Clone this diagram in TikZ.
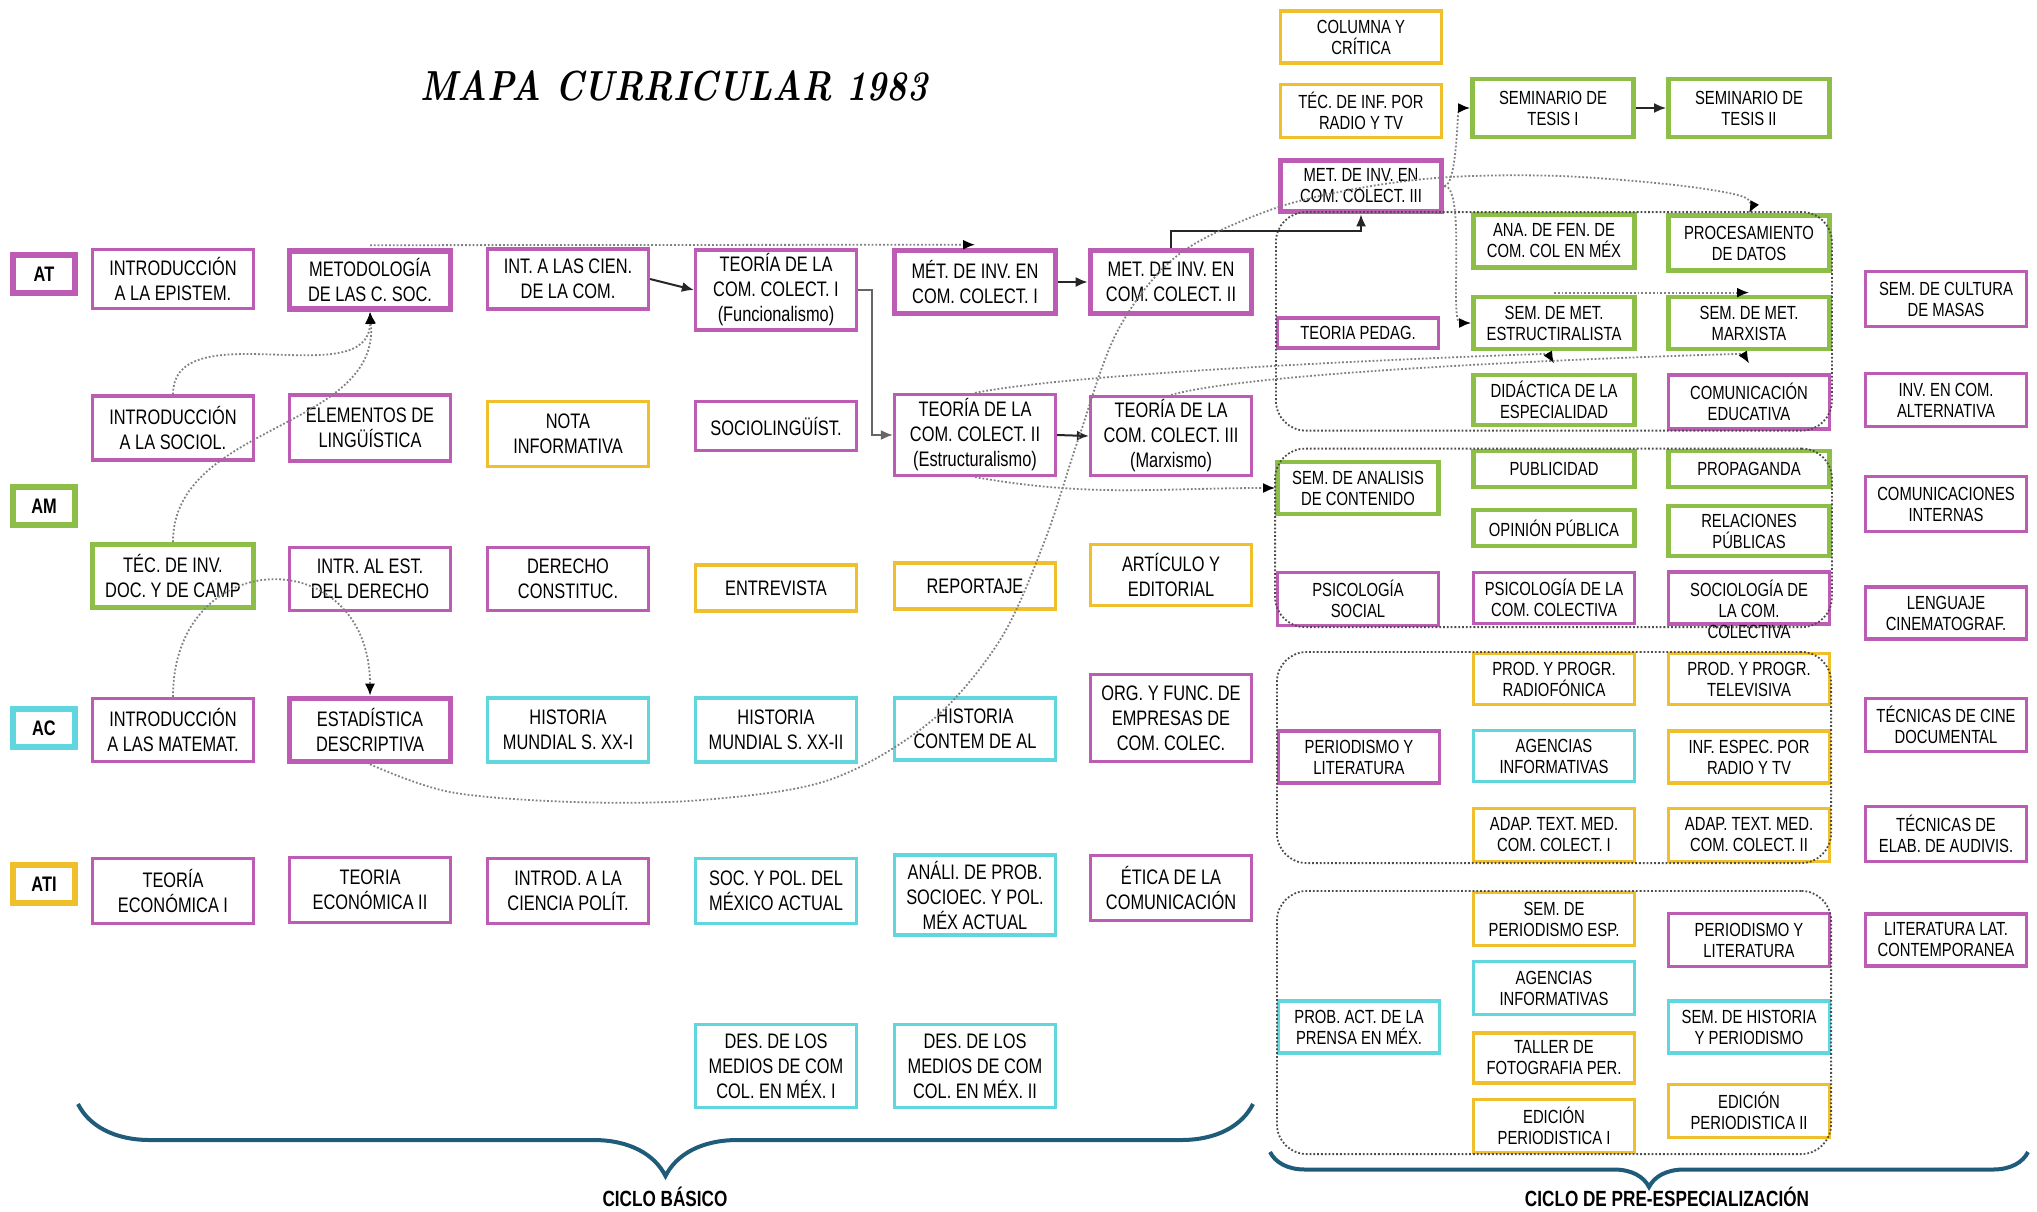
\documentclass[tikz,border=0pt]{standalone}
\usepackage{fontspec}
\usepackage{graphicx}
\usetikzlibrary{arrows.meta}
\usetikzlibrary{fit}
\usetikzlibrary{decorations.pathreplacing}
\newfontfamily\boxfont{Liberation Sans}[FakeStretch=0.78]
\definecolor{cmag}{RGB}{188,92,178}
\definecolor{cgrn}{RGB}{141,190,72}
\definecolor{ccyn}{RGB}{96,214,222}
\definecolor{cylw}{RGB}{240,192,44}
\definecolor{cllave}{RGB}{30,92,122}
\newcommand{\izq}{\boxfont\fontsize{10.5}{12.5}\selectfont}
\newcommand{\der}{\boxfont\fontsize{9.5}{10.5}\selectfont}
\tikzset {
  % course boxes, one colour per area
  curso/.style = {draw, rectangle, line width=1.6pt, minimum width=80.5pt,
    inner sep=1pt, align=center, font=\izq},
  mag/.style = {curso, draw=cmag},
  grn/.style = {curso, draw=cgrn, line width=2.4pt},
  cyn/.style = {curso, draw=ccyn},
  ylw/.style = {curso, draw=cylw},
  grueso/.style = {line width=2.8pt},
  chico/.style = {font=\der},
  % area labels on the left
  area/.style = {draw, line width=2.8pt, minimum width=31pt, minimum height=19pt,
    font=\boxfont\bfseries\fontsize{10.5}{12}\selectfont},
  % solid sequence arrows
  flecha/.style = {-{Latex[length=6pt,width=5pt]}, line width=1pt, black!85},
  % dotted relations
  relacion/.style = {-{Latex[length=6pt,width=5pt,color=black]}, black!50,
    line width=0.9pt, densely dotted},
  % groups of options
  bloque/.style = {draw=black!70, densely dotted, line width=0.9pt,
    rounded corners=15pt, inner sep=0pt},
  llave/.style = {decorate, draw=cllave, line width=2pt},
  ciclo/.style = {font=\boxfont\bfseries\fontsize{11}{12}\selectfont},
  titulo/.style = {font=\fontsize{21}{24}\selectfont\bfseries\itshape},
}

\begin{document}
\begin{tikzpicture}[x=0.5pt, y=-0.5pt]
  \useasboundingbox (0,0) rectangle (2037,1211);

  \node[titulo] (titulo) at (674,86) {\scalebox{0.82}[1]{MAPA CURRICULAR 1983}};

  % areas
  \node[area, draw=cmag] (at) at (44,274) {AT};
  \node[area, draw=cgrn] (am) at (44,506) {AM};
  \node[area, draw=ccyn] (ac) at (44,728) {AC};
  \node[area, draw=cylw] (ati) at (44,884) {ATI};

  % ciclo basico
  \node[mag, minimum height=29.5pt] (epistem) at (173,279) {INTRODUCCIÓN\\A LA EPISTEM.};
  \node[mag, minimum height=32pt] (sociol) at (173,428) {INTRODUCCIÓN\\A LA SOCIOL.};
  \node[grn, minimum height=31.5pt] (tecinv) at (173,576) {TÉC. DE INV.\\DOC. Y DE CAMP};
  \node[mag, minimum height=31.5pt] (matemat) at (173,730) {INTRODUCCIÓN\\A LAS MATEMAT.};
  \node[mag, minimum height=32.5pt] (econ1) at (173,891) {TEORÍA\\ECONÓMICA I};

  \node[mag, grueso, minimum height=29pt] (metod) at (370,280) {METODOLOGÍA\\DE LAS C. SOC.};
  \node[mag, minimum height=33pt] (elemen) at (370,428) {ELEMENTOS DE\\LINGÜÍSTICA};
  \node[mag, minimum height=31.5pt] (estder) at (370,579) {INTR. AL EST.\\DEL DERECHO};
  \node[mag, grueso, minimum height=31.5pt] (estad) at (370,730) {ESTADÍSTICA\\DESCRIPTIVA};
  \node[mag, minimum height=32.5pt] (econ2) at (370,890) {TEORIA\\ECONÓMICA II};

  \node[mag, minimum height=30pt] (intcien) at (568,279) {INT. A LAS CIEN.\\DE LA COM.};
  \node[ylw, minimum height=32.5pt] (nota) at (568,434) {NOTA\\INFORMATIVA};
  \node[mag, minimum height=31.5pt] (constit) at (568,579) {DERECHO\\CONSTITUC.};
  \node[cyn, minimum height=32pt] (hist1) at (568,730) {HISTORIA\\MUNDIAL S. XX-I};
  \node[mag, minimum height=32.5pt] (cienpol) at (568,891) {INTROD. A LA\\CIENCIA POLÍT.};

  \node[mag, minimum height=40pt] (teoria1) at (776,290) {TEORÍA DE LA\\COM. COLECT. I\\(Funcionalismo)};
  \node[mag, minimum height=24.5pt] (socling) at (776,426) {SOCIOLINGÜÍST.};
  \node[ylw, minimum height=23pt] (entrev) at (776,588) {ENTREVISTA};
  \node[cyn, minimum height=32pt] (hist2) at (776,730) {HISTORIA\\MUNDIAL S. XX-II};
  \node[cyn, minimum height=32.5pt] (socpol) at (776,891) {SOC. Y POL. DEL\\MÉXICO ACTUAL};
  \node[cyn, minimum height=41.5pt] (desmed1) at (776,1066) {DES. DE LOS\\MEDIOS DE COM\\COL. EN MÉX. I};

  \node[mag, grueso, minimum height=31.5pt] (met1) at (975,282) {MÉT. DE INV. EN\\COM. COLECT. I};
  \node[mag, minimum height=40.5pt] (teoria2) at (975,435) {TEORÍA DE LA\\COM. COLECT. II\\(Estructuralismo)};
  \node[ylw, minimum height=23pt] (report) at (975,586) {REPORTAJE};
  \node[cyn, minimum height=31pt] (histal) at (975,729) {HISTORIA\\CONTEM DE AL};
  \node[cyn, minimum height=40pt] (analprob) at (975,895) {ANÁLI. DE PROB.\\SOCIOEC. Y POL.\\MÉX ACTUAL};
  \node[cyn, minimum height=41.5pt] (desmed2) at (975,1066) {DES. DE LOS\\MEDIOS DE COM\\COL. EN MÉX. II};

  \node[mag, grueso, minimum height=31.5pt] (met2) at (1171,282) {MET. DE INV. EN\\COM. COLECT. II};
  \node[mag, minimum height=39.5pt] (teoria3) at (1171,436) {TEORÍA DE LA\\COM. COLECT. III\\(Marxismo)};
  \node[ylw, minimum height=30.5pt] (artic) at (1171,575) {ARTÍCULO Y\\EDITORIAL};
  \node[mag, minimum height=43.5pt] (orgfunc) at (1171,718) {ORG. Y FUNC. DE\\EMPRESAS DE\\COM. COLEC.};
  \node[mag, minimum height=32.5pt] (etica) at (1171,888) {ÉTICA DE LA\\COMUNICACIÓN};

  % ciclo de pre-especializacion
  \node[ylw, chico, minimum height=26pt] (columna) at (1361,37) {COLUMNA Y\\CRÍTICA};
  \node[ylw, chico, minimum height=26.5pt] (tecinf) at (1361,111) {TÉC. DE INF. POR\\RADIO Y TV};
  \node[mag, chico, grueso, minimum height=25.5pt] (met3) at (1361,186) {MET. DE INV. EN\\COM. COLECT. III};
  \node[mag, chico, minimum height=15pt] (teoped) at (1358,333) {TEORIA PEDAG.};
  \node[grn, chico, minimum height=26pt] (semanal) at (1358,488) {SEM. DE ANALISIS\\DE CONTENIDO};
  \node[mag, chico, minimum height=26.5pt] (psicsoc) at (1358,599) {PSICOLOGÍA\\SOCIAL};
  \node[mag, chico, minimum height=26pt] (perlit1) at (1359,757) {PERIODISMO Y\\LITERATURA};
  \node[cyn, chico, minimum height=26pt] (probact) at (1359,1027) {PROB. ACT. DE LA\\PRENSA EN MÉX.};

  \node[grn, chico, minimum height=29pt] (tesis1) at (1553,108) {SEMINARIO DE\\TESIS I};
  \node[grn, chico, minimum height=26.5pt] (anafen) at (1554,241) {ANA. DE FEN. DE\\COM. COL EN MÉX};
  \node[grn, chico, minimum height=26pt] (estruc) at (1554,323) {SEM. DE MET.\\ESTRUCTIRALISTA};
  \node[grn, chico, minimum height=25pt] (didac) at (1554,400) {DIDÁCTICA DE LA\\ESPECIALIDAD};
  \node[grn, chico, minimum height=18pt] (public) at (1554,469) {PUBLICIDAD};
  \node[grn, chico, minimum height=18pt] (opinion) at (1554,528) {OPINIÓN PÚBLICA};
  \node[mag, chico, minimum height=25.5pt] (psiccom) at (1554,598) {PSICOLOGÍA DE LA\\COM. COLECTIVA};
  \node[ylw, chico, minimum height=25.5pt] (prodrad) at (1554,679) {PROD. Y PROGR.\\RADIOFÓNICA};
  \node[cyn, chico, minimum height=25.5pt] (agen1) at (1554,756) {AGENCIAS\\INFORMATIVAS};
  \node[ylw, chico, minimum height=26.5pt] (adap1) at (1554,835) {ADAP. TEXT. MED.\\COM. COLECT. I};
  \node[ylw, chico, minimum height=26.5pt] (semper) at (1554,919) {SEM. DE\\PERIODISMO ESP.};
  \node[cyn, chico, minimum height=26.5pt] (agen2) at (1554,988) {AGENCIAS\\INFORMATIVAS};
  \node[ylw, chico, minimum height=25pt] (taller) at (1554,1058) {TALLER DE\\FOTOGRAFIA PER.};
  \node[ylw, chico, minimum height=26.5pt] (edic1) at (1554,1126) {EDICIÓN\\PERIODISTICA I};

  \node[grn, chico, minimum height=29pt] (tesis2) at (1749,108) {SEMINARIO DE\\TESIS II};
  \node[grn, chico, minimum height=27.5pt] (proc) at (1749,243) {PROCESAMIENTO\\DE DATOS};
  \node[grn, chico, minimum height=26pt] (marx) at (1749,323) {SEM. DE MET.\\MARXISTA};
  \node[mag, chico, minimum height=27pt] (comedu) at (1749,402) {COMUNICACIÓN\\EDUCATIVA};
  \node[grn, chico, minimum height=18pt] (propag) at (1749,469) {PROPAGANDA};
  \node[grn, chico, minimum height=25pt] (relpub) at (1749,531) {RELACIONES\\PÚBLICAS};
  \node[mag, chico, minimum height=26pt] (sociolcom) at (1749,598)
    {\raisebox{-9.5pt}[0pt][0pt]{\begin{tabular}{@{}c@{}}SOCIOLOGÍA DE\\LA COM.\\COLECTIVA\end{tabular}}};
  \node[ylw, chico, minimum height=25.5pt] (prodtv) at (1749,679) {PROD. Y PROGR.\\TELEVISIVA};
  \node[ylw, chico, minimum height=26pt] (infesp) at (1749,757) {INF. ESPEC. POR\\RADIO Y TV};
  \node[ylw, chico, minimum height=26.5pt] (adap2) at (1749,835) {ADAP. TEXT. MED.\\COM. COLECT. II};
  \node[mag, chico, minimum height=26.5pt] (perlit2) at (1749,940) {PERIODISMO Y\\LITERATURA};
  \node[cyn, chico, minimum height=26pt] (semhist) at (1749,1027) {SEM. DE HISTORIA\\Y PERIODISMO};
  \node[ylw, chico, minimum height=26.5pt] (edic2) at (1749,1111) {EDICIÓN\\PERIODISTICA II};

  \node[mag, chico, minimum height=27.5pt] (semcult) at (1946,299) {SEM. DE CULTURA\\DE MASAS};
  \node[mag, chico, minimum height=26.5pt] (invalt) at (1946,400) {INV. EN COM.\\ALTERNATIVA};
  \node[mag, chico, minimum height=27.5pt] (cominter) at (1946,504) {COMUNICACIONES\\INTERNAS};
  \node[mag, chico, minimum height=26pt] (lenguaje) at (1946,613) {LENGUAJE\\CINEMATOGRAF.};
  \node[mag, chico, minimum height=26.5pt] (tecine) at (1946,725) {TÉCNICAS DE CINE\\DOCUMENTAL};
  \node[mag, chico, minimum height=27.5pt] (tecelab) at (1946,834) {TÉCNICAS DE\\ELAB. DE AUDIVIS.};
  \node[mag, chico, minimum height=26pt] (litlat) at (1946,940) {LITERATURA LAT.\\CONTEMPORANEA};

  % option groups
  \node[bloque, fit=(teoped)(anafen)(proc)(comedu)] (g1) {};
  \node[bloque, fit=(semanal)(public)(propag)(psicsoc)(sociolcom)] (g2) {};
  \node[bloque, fit=(perlit1)(prodrad)(prodtv)(adap1)(adap2)] (g3) {};
  \node[bloque, fit=(probact)(semper)(perlit2)(edic1)(edic2)] (g4) {};

  % sequences
  \draw[flecha] (intcien.east) -- (teoria1.west);
  \draw[flecha, black!60] (teoria1.east) -- ++(14,0) |- (teoria2.west);
  \draw[flecha] (met1.east) -- (met2.west);
  \draw[flecha] (teoria2.east) -- (teoria3.west);
  \draw[flecha] (met2.north) -- ++(0,-17) -| (met3.south);
  \draw[flecha] (tesis1.east) -- (tesis2.west);

  % relations
  \draw[relacion] ([yshift=1.5pt]metod.north) -- ([yshift=1.5pt]met1.north);
  \draw[relacion] (sociol.north) to[out=90, in=-90] (metod.south);
  \draw[relacion] (tecinv.north) to[out=90, in=-85] (metod.south);
  \draw[relacion] (matemat.north) to[out=90, in=90, looseness=2] (estad.north);
  \draw[relacion] plot[smooth, tension=0.55] coordinates {(estad.south) (450,792)
    (574,802) (702,800) (829,780) (930,722) (1000,640) (1045,540) (1078,440)
    (1118,330) (1178,255) (1270,210) (1360,188) (1450,177) (1560,176) (1675,185)
    (1744,197) (proc.north)};
  \draw[relacion] (teoria2.south) to[out=-10, in=180] (semanal.west);
  \draw[relacion] (teoria2.north) .. controls +(120,-24) and +(-6,-10) .. ([yshift=-6pt]estruc.south);
  \draw[relacion] (teoria3.north) .. controls +(100,-28) and +(-6,-10) .. ([yshift=-6pt]marx.south);
  \draw[relacion] ([yshift=1pt]estruc.north) -- ([yshift=1pt]marx.north);
  \draw[relacion] (met3.east) to[out=0, in=180, looseness=0.4] (tesis1.west);
  \draw[relacion] (met3.east) to[out=0, in=180, looseness=0.4] (estruc.west);

  % cycles
  \coordinate (basicoL) at (78,1104);
  \coordinate (basicoR) at (1253,1104);
  \coordinate (preL) at (1270,1152);
  \coordinate (preR) at (2028,1152);
  \draw[llave, decoration={brace, mirror, amplitude=36pt}] (basicoL) -- (basicoR);
  \draw[llave, decoration={brace, mirror, amplitude=17.5pt}] (preL) -- (preR);
  \node[ciclo] (basico) at (665,1197) {CICLO BÁSICO};
  \node[ciclo] (preesp) at (1667,1197) {CICLO DE PRE-ESPECIALIZACIÓN};
\end{tikzpicture}
\end{document}
